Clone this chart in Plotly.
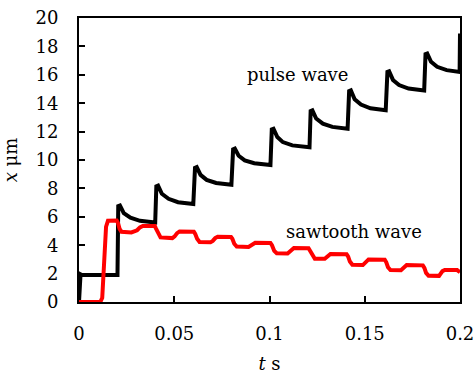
import plotly.graph_objects as go

# Pulse wave (black)
t_pulse = [0, 0.0008, 0.0015, 0.0202,
           0.0206, 0.0215, 0.0235, 0.027, 0.032, 0.040,
           0.0406, 0.0415, 0.0435, 0.047, 0.052, 0.060,
           0.0609, 0.0618, 0.0638, 0.067, 0.072, 0.080,
           0.0809, 0.0818, 0.0838, 0.087, 0.092, 0.1005,
           0.1012, 0.1021, 0.1041, 0.107, 0.112, 0.121,
           0.1216, 0.1225, 0.1245, 0.128, 0.133, 0.141,
           0.1418, 0.1427, 0.1447, 0.148, 0.153, 0.161,
           0.1619, 0.1628, 0.1648, 0.168, 0.173, 0.1812,
           0.1819, 0.1828, 0.1848, 0.188, 0.193, 0.1998,
           0.2000]
x_pulse = [0, 1.95, 1.9, 1.9,
           6.75, 6.8, 6.26, 5.94, 5.72, 5.6,
           8.15, 8.2, 7.62, 7.27, 7.03, 6.9,
           9.45, 9.5, 8.95, 8.6, 8.38, 8.25,
           10.75, 10.8, 10.3, 9.97, 9.77, 9.65,
           12.15, 12.2, 11.62, 11.26, 11.03, 10.9,
           13.45, 13.5, 12.92, 12.56, 12.33, 12.2,
           14.85, 14.9, 14.27, 13.9, 13.64, 13.5,
           16.2, 16.25, 15.64, 15.28, 15.03, 14.9,
           17.45, 17.5, 16.92, 16.56, 16.33, 16.2,
           18.9]

# Sawtooth wave (red)
t_saw = [0, 0.0112, 0.0122, 0.0132, 0.0142, 0.0152, 0.0198,
         0.0205, 0.0213, 0.0223, 0.0275, 0.0305, 0.032, 0.0335, 0.0398,
         0.0403, 0.0415, 0.0428, 0.049, 0.0502, 0.0515, 0.0528, 0.0603,
         0.061, 0.062, 0.0633, 0.069, 0.0702, 0.0715, 0.0728, 0.0798,
         0.0805, 0.0815, 0.0828, 0.089, 0.0902, 0.0912, 0.0925, 0.1005,
         0.1013, 0.1025, 0.1038, 0.1095, 0.1105, 0.1115, 0.1128, 0.1205,
         0.1213, 0.1225, 0.1238, 0.129, 0.1298, 0.1308, 0.132, 0.1405,
         0.1413, 0.1422, 0.1435, 0.149, 0.1498, 0.1508, 0.152, 0.1605,
         0.1613, 0.1622, 0.1635, 0.169, 0.1698, 0.1708, 0.172, 0.1805,
         0.1813, 0.1822, 0.1835, 0.189, 0.1898, 0.1908, 0.192, 0.1985, 0.2]
x_saw = [0, 0, 0.3, 2.8, 5.3, 5.72, 5.73,
         5.55, 5.15, 4.95, 4.9, 5.05, 5.25, 5.35, 5.35,
         5.2, 4.8, 4.55, 4.5, 4.62, 4.85, 4.97, 4.95,
         4.8, 4.45, 4.22, 4.2, 4.3, 4.5, 4.6, 4.58,
         4.45, 4.1, 3.9, 3.88, 3.97, 4.1, 4.17, 4.15,
         4.0, 3.6, 3.43, 3.42, 3.55, 3.72, 3.8, 3.78,
         3.6, 3.25, 3.05, 3.04, 3.15, 3.3, 3.38, 3.36,
         3.2, 2.85, 2.62, 2.6, 2.72, 2.9, 3.0, 2.98,
         2.8, 2.45, 2.25, 2.24, 2.35, 2.52, 2.6, 2.58,
         2.4, 2.05, 1.85, 1.84, 1.97, 2.17, 2.25, 2.25, 2.1]

x_tick_vals = [0, 0.05, 0.1, 0.15, 0.2]
x_tick_text = ["0", "0.05", "0.1", "0.15", "0.2"]
y_tick_vals = [0, 2, 4, 6, 8, 10, 12, 14, 16, 18, 20]

labels = ["pulse wave", "sawtooth wave"]
label_pos = [(0.1147, 16.0), (0.1445, 4.93)]

FONT = "DejaVu Serif"
FS = 18

fig = go.Figure()
fig.add_trace(go.Scatter(x=t_pulse, y=x_pulse, mode="lines",
                         line=dict(color="black", width=4), showlegend=False))
fig.add_trace(go.Scatter(x=t_saw, y=x_saw, mode="lines",
                         line=dict(color="#ff0000", width=4), showlegend=False))

for txt, (tx, ty) in zip(labels, label_pos):
    fig.add_annotation(x=tx, y=ty, text=txt, showarrow=False,
                       font=dict(family=FONT, size=FS, color="black"))

fig.update_layout(
    width=476, height=374,
    margin=dict(l=79, r=16, t=18, b=72),
    paper_bgcolor="white", plot_bgcolor="white",
    font=dict(family=FONT, size=FS, color="black"),
    xaxis=dict(range=[0, 0.2], tickvals=x_tick_vals, ticktext=x_tick_text,
               showline=True, mirror=True, linecolor="black", linewidth=2,
               ticks="inside", ticklen=6, tickwidth=1.5, tickcolor="black",
               showgrid=False, zeroline=False, automargin=False,
               ticklabelstandoff=14,
               tickfont=dict(family=FONT, size=FS, color="black"),
               title=dict(text="<i>t</i> s", standoff=16,
                          font=dict(family=FONT, size=FS, color="black"))),
    yaxis=dict(range=[0, 20], tickvals=y_tick_vals,
               showline=True, mirror=True, linecolor="black", linewidth=2,
               ticks="inside", ticklen=6, tickwidth=1.5, tickcolor="black",
               showgrid=False, zeroline=False, automargin=False,
               ticklabelstandoff=15,
               tickfont=dict(family=FONT, size=FS, color="black"),
               title=dict(text="<i>x</i> μm", standoff=14,
                          font=dict(family=FONT, size=FS, color="black"))),
)

fig.write_html("out.html")
